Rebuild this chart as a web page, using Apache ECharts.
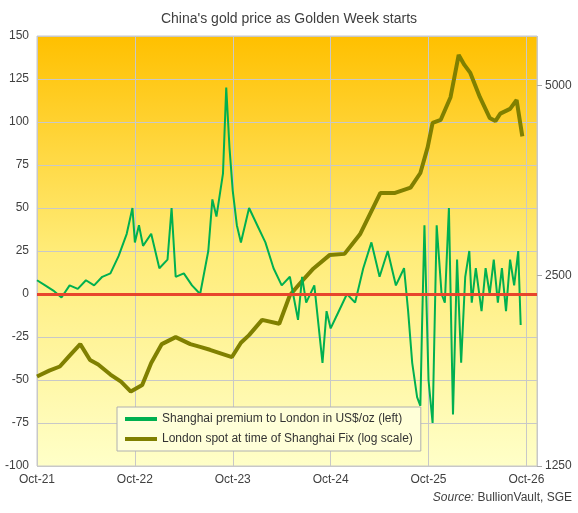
<!DOCTYPE html>
<html><head><meta charset="utf-8">
<script src="https://cdn.jsdelivr.net/npm/echarts@6/dist/echarts.min.js"></script>
<style>html,body{margin:0;padding:0;background:#fff}#c{width:578px;height:513px}</style>
</head><body><div id="c"></div>
<script>
// x positions: months since Oct 2021
const xTickLabels = ['Oct-21','Oct-22','Oct-23','Oct-24','Oct-25','Oct-26'];
const goldMonths = [0,1.5,2.8,4,5.3,6.5,7.5,9,10.3,11.5,12.9,14,15.3,17,18.8,20,21.2,23.9,25,26,27.6,29.7,31,32.2,33.9,35.9,37.7,39.6,42.1,43.9,45.8,47,47.9,48.5,49.5,50.7,51.7,52.4,53.1,54.3,55.5,56.2,56.8,58,58.8,59.5];
const goldPrice  = [1733,1770,1797,1870,1950,1840,1810,1745,1700,1640,1680,1820,1950,2000,1950,1930,1910,1860,1960,2015,2130,2100,2330,2430,2570,2700,2710,2910,3385,3385,3450,3640,4000,4370,4420,4800,5600,5400,5250,4800,4450,4400,4520,4600,4750,4160];
const premMonths = [0,1,2,3,4,5,6,7,8,9,10,11,11.7,12,12.5,13,14,15,16,16.5,17,18,19,20,21,21.5,22,22.8,23.2,23.6,24,24.5,25,26,27,28,29,30,31,32,32.5,33,34,35,35.5,36,37,38,39,40,41,42,43,44,45,45.5,46,46.6,47,47.2,47.5,48,48.5,49,49.3,49.6,50,50.5,51,51.5,52,52.5,53,53.3,53.8,54.5,55,55.5,56,56.5,57,57.5,58,58.5,59,59.3,59.5];
const premValue  = [8,5,2,-2,5,3,8,5,10,12,22,35,50,30,40,28,35,15,20,50,10,12,5,0,25,55,45,70,120,85,60,40,30,50,40,30,15,5,10,-15,10,-5,5,-40,-10,-20,-10,0,-5,15,30,10,25,5,15,-10,-40,-60,-65,-20,40,-50,-75,40,20,0,-5,50,-70,20,-40,10,25,-5,15,-10,15,0,20,-5,15,-10,20,5,25,-18];

const gold = goldMonths.map((m,i)=>[m,goldPrice[i]]);
const prem = premMonths.map((m,i)=>[m,premValue[i]]);

const chart = echarts.init(document.getElementById('c'));
chart.setOption({
  animation:false,
  textStyle:{fontFamily:'Liberation Sans, Arial, sans-serif'},
  title:{text:"China's gold price as Golden Week starts",left:'center',top:7,
    textStyle:{fontSize:14,fontWeight:'normal',color:'#404040'}},
  graphic:[
    {type:'rect',shape:{x:37,y:36,width:500,height:430},z:-1,
      style:{fill:new echarts.graphic.LinearGradient(0,0,0,1,[{offset:0,color:'#ffc000'},{offset:0.5,color:'#ffec78'},{offset:1,color:'#ffffc8'}])}},
    {type:'text',right:6,top:492,style:{rich:{i:{fontStyle:'italic',fontSize:12,fill:'#404040'},n:{fontSize:12,fill:'#404040'}},text:'{i|Source:} {n|BullionVault, SGE}'}}
  ],
  grid:{left:37,right:41,top:36,bottom:47,show:true,borderColor:'#c8c8c8',borderWidth:1},
  legend:{orient:'vertical',left:117,top:407,padding:[6,8],itemGap:8,
    backgroundColor:'#ffffd8',borderColor:'#b0b0b0',borderWidth:1,
    itemWidth:32,itemHeight:4,icon:'rect',textStyle:{fontSize:12,color:'#333'},
    data:['Shanghai premium to London in US$/oz (left)','London spot at time of Shanghai Fix (log scale)']},
  xAxis:{type:'value',min:0,max:61.3,interval:12,
    axisLine:{show:false},axisTick:{show:true,lineStyle:{color:'#c8c8c8'}},
    splitLine:{show:true,lineStyle:{color:'#c8c8c8'}},
    axisLabel:{color:'#404040',fontSize:12,showMaxLabel:false,formatter:v=>xTickLabels[Math.round(v/12)]||''}},
  yAxis:[
    {type:'value',min:-100,max:150,interval:25,
      axisLine:{show:false},axisTick:{show:false},
      splitLine:{lineStyle:{color:'#c8c8c8'}},
      axisLabel:{color:'#404040',fontSize:12}},
    {type:'log',logBase:2,min:1250,max:6000,interval:1,
      axisLine:{show:false},axisTick:{show:true,lineStyle:{color:'#aaa'}},splitLine:{show:false},
      axisLabel:{color:'#404040',fontSize:12,showMaxLabel:false,formatter:v=>String(Math.round(v/50)*50)}}
  ],
  series:[
    {name:'Shanghai premium to London in US$/oz (left)',type:'line',data:prem,yAxisIndex:0,
      symbol:'none',lineStyle:{color:'#00b050',width:2},itemStyle:{color:'#00b050'},z:3,
      markLine:{silent:true,symbol:'none',label:{show:false},lineStyle:{color:'#e8452c',width:3,type:'solid'},data:[{yAxis:0}]}},
    {name:'London spot at time of Shanghai Fix (log scale)',type:'line',data:gold,yAxisIndex:1,
      symbol:'none',lineStyle:{color:'#808000',width:4},itemStyle:{color:'#808000'},z:2}
  ]
});
</script></body></html>
